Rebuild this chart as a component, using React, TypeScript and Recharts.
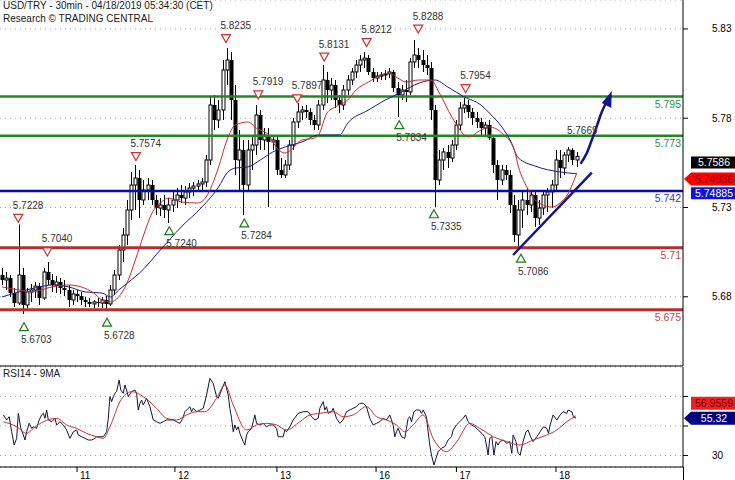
import React from 'react';
import { ComposedChart, Bar, Line, XAxis, YAxis, CartesianGrid, ReferenceLine, ReferenceDot } from 'recharts';

const FONT = '"Liberation Sans", Arial, Helvetica, sans-serif';

// hourly candles [open, high, low, close], one per slot
const candles: number[][] = [
  [5.6922,5.6962,5.6866,5.6894],[5.6894,5.6939,5.6838,5.6905],[5.6905,5.6922,5.6799,5.6821],[5.6821,5.6849,5.6743,5.6765],
  [5.6765,5.7205,5.6754,5.6922],[5.6922,5.6962,5.6704,5.6754],[5.6754,5.6849,5.6737,5.6827],[5.6827,5.6872,5.6771,5.6838],
  [5.6838,5.6883,5.6793,5.6860],[5.6860,5.6877,5.6754,5.6793],[5.6793,5.6962,5.6782,5.6939],[5.6939,5.6995,5.6866,5.6894],
  [5.6894,5.6928,5.6827,5.6866],[5.6866,5.6916,5.6821,5.6883],[5.6883,5.6905,5.6816,5.6849],[5.6849,5.6894,5.6804,5.6838],
  [5.6838,5.6866,5.6743,5.6782],[5.6782,5.6838,5.6754,5.6816],[5.6816,5.6838,5.6771,5.6804],[5.6804,5.6827,5.6754,5.6782],
  [5.6782,5.6799,5.6743,5.6771],[5.6771,5.6793,5.6743,5.6760],[5.6760,5.6782,5.6737,5.6771],[5.6771,5.6793,5.6743,5.6765],
  [5.6765,5.6799,5.6737,5.6782],[5.6782,5.6804,5.6720,5.6760],[5.6760,5.6866,5.6748,5.6838],[5.6838,5.6950,5.6810,5.6922],
  [5.6922,5.7090,5.6894,5.7062],[5.7062,5.7186,5.6995,5.7146],[5.7146,5.7342,5.7090,5.7286],[5.7286,5.7499,5.7230,5.7426],
  [5.7426,5.7538,5.7286,5.7465],[5.7465,5.7510,5.7241,5.7342],[5.7342,5.7454,5.7314,5.7398],[5.7398,5.7465,5.7342,5.7426],
  [5.7426,5.7454,5.7314,5.7342],[5.7342,5.7370,5.7258,5.7297],[5.7297,5.7353,5.7252,5.7314],[5.7314,5.7370,5.7241,5.7286],
  [5.7286,5.7353,5.7213,5.7314],[5.7314,5.7387,5.7275,5.7342],[5.7342,5.7409,5.7297,5.7370],[5.7370,5.7426,5.7325,5.7353],
  [5.7353,5.7420,5.7314,5.7387],[5.7387,5.7437,5.7353,5.7409],[5.7409,5.7443,5.7364,5.7420],[5.7420,5.7454,5.7387,5.7432],
  [5.7432,5.7465,5.7398,5.7443],[5.7443,5.7594,5.7415,5.7566],[5.7566,5.7919,5.7538,5.7874],[5.7874,5.7930,5.7734,5.7790],
  [5.7790,5.7902,5.7745,5.7846],[5.7846,5.8126,5.7790,5.8070],[5.8070,5.8193,5.7986,5.8126],[5.8126,5.8171,5.7790,5.7902],
  [5.7902,5.7986,5.7482,5.7566],[5.7566,5.7734,5.7398,5.7622],[5.7622,5.7678,5.7258,5.7426],[5.7426,5.7678,5.7387,5.7622],
  [5.7622,5.7706,5.7510,5.7650],[5.7650,5.7874,5.7594,5.7818],[5.7818,5.7846,5.7622,5.7678],[5.7678,5.7745,5.7622,5.7706],
  [5.7706,5.7745,5.7303,5.7667],[5.7667,5.7706,5.7622,5.7678],[5.7678,5.7700,5.7482,5.7510],[5.7510,5.7577,5.7465,5.7482],
  [5.7482,5.7566,5.7465,5.7538],[5.7538,5.7678,5.7510,5.7650],[5.7650,5.7801,5.7622,5.7779],[5.7779,5.7885,5.7745,5.7835],
  [5.7835,5.7868,5.7790,5.7846],[5.7846,5.7874,5.7801,5.7835],[5.7835,5.7857,5.7762,5.7790],[5.7790,5.7818,5.7734,5.7762],
  [5.7762,5.7902,5.7734,5.7874],[5.7874,5.8098,5.7846,5.8014],[5.8014,5.8059,5.7885,5.7958],[5.7958,5.8025,5.7902,5.7986],
  [5.7986,5.8014,5.7857,5.7902],[5.7902,5.7930,5.7829,5.7874],[5.7874,5.7986,5.7846,5.7958],[5.7958,5.8042,5.7930,5.8014],
  [5.8014,5.8081,5.7986,5.8059],[5.8059,5.8126,5.8025,5.8098],[5.8098,5.8154,5.8059,5.8126],[5.8126,5.8171,5.8081,5.8137],
  [5.8137,5.8154,5.8042,5.8059],[5.8059,5.8081,5.8003,5.8025],[5.8025,5.8059,5.8003,5.8036],[5.8036,5.8059,5.8014,5.8042],
  [5.8042,5.8070,5.8014,5.8048],[5.8048,5.8081,5.8025,5.8059],[5.8059,5.8070,5.7947,5.7969],[5.7969,5.8003,5.7807,5.7930],
  [5.7930,5.7986,5.7902,5.7958],[5.7958,5.8014,5.7891,5.7947],[5.7947,5.8137,5.7930,5.8115],[5.8115,5.8238,5.8081,5.8154],
  [5.8154,5.8193,5.8081,5.8126],[5.8126,5.8182,5.8059,5.8098],[5.8098,5.8154,5.8042,5.8081],[5.8081,5.8115,5.7790,5.7846],
  [5.7846,5.7874,5.7303,5.7454],[5.7454,5.7622,5.7426,5.7566],[5.7566,5.7633,5.7510,5.7611],[5.7611,5.7650,5.7521,5.7577],
  [5.7577,5.7678,5.7555,5.7650],[5.7650,5.7790,5.7622,5.7762],[5.7762,5.7891,5.7734,5.7857],[5.7857,5.7913,5.7829,5.7874],
  [5.7874,5.7902,5.7801,5.7835],[5.7835,5.7857,5.7762,5.7801],[5.7801,5.7835,5.7745,5.7779],[5.7779,5.7801,5.7706,5.7745],
  [5.7745,5.7779,5.7706,5.7762],[5.7762,5.7790,5.7678,5.7689],[5.7689,5.7706,5.7493,5.7538],[5.7538,5.7566,5.7342,5.7454],
  [5.7454,5.7538,5.7426,5.7510],[5.7510,5.7538,5.7454,5.7482],[5.7482,5.7510,5.7269,5.7314],[5.7314,5.7370,5.7107,5.7146],
  [5.7146,5.7342,5.7079,5.7286],[5.7286,5.7387,5.7186,5.7342],[5.7342,5.7409,5.7258,5.7314],[5.7314,5.7398,5.7275,5.7370],
  [5.7370,5.7387,5.7191,5.7241],[5.7241,5.7342,5.7202,5.7297],[5.7297,5.7398,5.7258,5.7370],[5.7370,5.7409,5.7275,5.7387],
  [5.7387,5.7454,5.7297,5.7426],[5.7426,5.7622,5.7398,5.7566],[5.7566,5.7622,5.7465,5.7521],[5.7521,5.7611,5.7482,5.7594],
  [5.7594,5.7639,5.7555,5.7622],[5.7622,5.7633,5.7538,5.7566],[5.7566,5.7611,5.7527,5.7586],
];

// moving averages on the price panel [slot, price]
const fastMa: number[][] = [
  [0,5.6855],[4,5.6838],[7,5.6827],[12,5.6855],[16,5.6866],[19,5.6855],[22,5.6821],[24,5.6782],[26,5.6771],[28,5.6799],
  [30,5.6877],[32,5.7006],[34,5.7146],[36,5.7269],[38,5.7325],[40,5.7353],[43,5.7331],[47,5.7325],[49,5.7359],[52,5.7527],
  [54,5.7678],[56,5.7762],[59,5.7779],[61,5.7745],[64,5.7706],[66,5.7633],[68,5.7605],[72,5.7678],[75,5.7689],[76,5.7706],
  [78,5.7829],[80,5.7863],[83,5.7902],[85,5.7958],[88,5.8003],[91,5.8042],[93,5.8053],[95,5.8025],[97,5.8003],[100,5.8014],
  [103,5.8014],[105,5.7941],[108,5.7807],[112,5.7695],[115,5.7734],[117,5.7751],[120,5.7717],[123,5.7622],[124,5.7527],
  [126,5.7415],[128,5.7342],[132,5.7303],[134,5.7325],[136,5.7381],[138,5.7494],
];
const slowMa: number[][] = [
  [0,5.6799],[4,5.6827],[9,5.6855],[12,5.6866],[16,5.6855],[20,5.6827],[24,5.6821],[26,5.6799],[28,5.6838],[31,5.6894],
  [33,5.6933],[38,5.7062],[43,5.7191],[48,5.7303],[52,5.7415],[54,5.7493],[56,5.7521],[59,5.7527],[62,5.7566],[65,5.7611],
  [68,5.7639],[72,5.7667],[76,5.7706],[81,5.7706],[83,5.7773],[88,5.7846],[92,5.7902],[96,5.7947],[99,5.7986],[104,5.8014],
  [107,5.7975],[111,5.7919],[115,5.7874],[117,5.7829],[120,5.7751],[122,5.7678],[124,5.7577],[128,5.7532],[134,5.7499],[138,5.7489],
];

// horizontal levels (drawn value) and their printed labels
const levelValues = [5.7921, 5.7702, 5.7392, 5.7075, 5.6728];
const levelLabels = ['5.795', '5.773', '5.742', '5.71', '5.675'];
const levelKinds = ['res', 'res', 'pivot', 'sup', 'sup'];

// swing markers [slot, price]
const swingHighs: number[][] = [
  [3.89,5.7228],[10.86,5.7040],[32.15,5.7574],[53.76,5.8235],[61.52,5.7919],[70.88,5.7897],[77.36,5.8131],[87.54,5.8212],[99.93,5.8288],[111.31,5.7954],
];
const swingLows: number[][] = [
  [5.26,5.6703],[25.19,5.6728],[40.15,5.7240],[58.16,5.7284],[95.37,5.7834],[103.7,5.7335],[124.59,5.7086],
];
const targetNote = [135.63, 5.7669];

// trend line and projected arrow [slot, price]
const trendLine: number[][] = [[122.7,5.7034],[141.6,5.7495]];
const arrowPath: number[][] = [[138.9,5.7545],[140.4,5.7605],[141.6,5.7678],[142.8,5.7756],[144.0,5.7835],[145.0,5.7885]];
const arrowTip = [146.4, 5.7952];

const priceTicks = [5.68, 5.73, 5.78, 5.83];
const lastPrice = 5.7586;
const fastMaLast = 5.74936;
const slowMaLast = 5.74885;

// RSI panel [slot, value]
const rsi: number[][] = [
  [0.3,57.5],[1.1,54.1],[1.7,56.3],[2.3,46.1],[2.9,37.1],[3.5,41.6],[3.9,58.6],[4.5,48.4],[5.1,43.9],[5.5,40.5],[5.9,46.1],[6.5,51.8],
  [7.1,48.4],[7.5,49.5],[8.3,48.4],[8.9,54.1],[9.5,57.5],[9.9,58.6],[10.3,55.2],[10.7,60.8],[11.1,54.1],[11.9,52.9],[12.7,55.2],
  [13.1,50.7],[13.9,52.9],[14.7,50.7],[15.5,47.3],[16.3,41.6],[17.1,46.1],[17.9,47.3],[18.3,43.9],[19.1,42.7],[19.9,41.6],[20.7,40.5],
  [21.5,40.5],[22.3,41.6],[22.7,42.7],[23.5,42.7],[24.3,42.7],[25.1,46.1],[25.5,55.2],[25.9,69.9],[26.3,66.5],[26.7,69.9],[27.1,72.2],
  [27.5,73.3],[28.1,81.2],[28.5,74.4],[29.1,72.2],[29.5,77.8],[29.9,74.4],[30.3,69.9],[31.1,73.3],[31.9,74.4],[32.3,72.2],[32.7,60.8],
  [33.1,65.4],[33.5,67.6],[33.9,64.2],[34.3,66.5],[34.7,68.8],[35.5,63.1],[36.3,54.1],[37.1,52.9],[37.9,51.8],[38.7,52.9],[39.5,54.1],
  [40.3,54.1],[41.1,54.1],[41.9,52.9],[42.7,51.8],[43.4,55.2],[43.9,59.7],[44.7,62.0],[45.1,63.1],[45.5,59.7],[45.9,62.0],[46.7,59.7],
  [47.5,60.8],[48.3,62.0],[49.1,71.0],[49.9,82.3],[50.7,78.9],[51.5,69.9],[51.9,68.8],[52.7,74.4],[53.5,80.0],[54.3,71.0],[54.7,62.0],
  [55.1,55.2],[55.5,46.1],[55.9,50.7],[56.3,47.3],[56.7,49.5],[57.1,45.0],[57.9,39.4],[58.3,37.1],[58.7,43.9],[59.1,46.1],[59.9,48.4],
  [60.7,57.5],[61.1,51.8],[61.9,50.7],[62.7,51.8],[63.5,49.5],[64.3,50.7],[65.1,50.7],[65.9,48.4],[66.3,42.7],[66.7,42.7],[67.5,42.7],
  [67.9,47.3],[68.3,46.1],[69.1,49.5],[69.9,54.1],[71.1,58.6],[72.3,59.7],[73.5,59.7],[74.3,56.3],[75.1,54.1],[75.9,55.2],[76.3,62.0],
  [77.1,66.5],[77.5,60.8],[77.9,63.1],[78.3,58.6],[79.1,59.7],[79.5,62.0],[80.3,55.2],[81.1,51.8],[81.9,54.1],[82.7,59.7],[83.5,60.8],
  [84.3,62.0],[85.1,63.1],[85.9,65.4],[86.7,65.4],[87.5,63.1],[88.3,55.2],[89.1,50.7],[89.9,51.8],[90.7,52.9],[91.5,55.2],[92.3,54.1],
  [93.1,57.5],[93.5,54.1],[93.9,50.7],[94.3,42.7],[94.7,46.1],[95.1,48.4],[95.9,42.7],[96.7,41.6],[97.1,48.4],[97.5,55.2],[97.9,56.3],
  [98.3,52.9],[98.9,59.7],[99.5,60.8],[100.3,60.8],[100.7,58.6],[101.1,60.8],[101.9,56.3],[102.3,46.1],[102.7,37.1],[103.1,30.3],
  [103.7,23.6],[104.2,28.1],[104.7,32.6],[105.5,34.9],[106.3,36.0],[107.1,40.5],[107.9,42.7],[108.3,47.3],[109.1,50.7],[109.9,52.9],
  [110.7,55.2],[111.3,57.5],[111.9,52.9],[112.7,50.7],[113.5,49.5],[114.3,47.3],[115.2,45.0],[115.9,42.7],[116.3,37.1],[116.7,30.3],
  [117.1,41.6],[117.6,42.7],[118.1,30.3],[118.6,39.4],[119.1,37.1],[119.5,39.4],[120.3,40.5],[121.2,38.3],[121.9,39.4],[122.4,31.5],
  [122.7,43.9],[123.4,39.4],[123.9,31.5],[124.4,30.3],[125.1,39.4],[125.8,46.1],[126.3,47.3],[126.9,42.7],[127.5,39.4],[128.4,42.7],
  [129.2,46.1],[130.0,49.5],[130.8,48.4],[131.2,45.0],[131.6,50.7],[132.3,57.5],[133.2,54.1],[134.0,57.5],[134.7,59.7],[135.6,58.6],
  [135.9,60.8],[136.8,59.7],[137.2,56.3],[137.8,55.32],
];
const rsiMa: number[][] = [
  [0.3,52.9],[3.5,49.5],[5.9,45.0],[7.5,48.4],[9.9,52.9],[13.1,55.2],[15.5,50.7],[17.9,48.4],[20.3,45.0],[22.7,42.7],[24.3,41.6],
  [25.9,49.5],[28.3,66.5],[31.1,73.3],[33.9,69.9],[37.1,62.0],[39.5,55.2],[41.9,54.1],[44.3,57.5],[46.7,59.7],[48.7,59.7],[51.5,68.8],
  [53.5,77.8],[55.5,64.2],[58.7,47.3],[61.1,50.7],[63.5,51.8],[65.9,50.7],[68.3,47.3],[71.5,52.9],[73.9,57.5],[76.3,58.6],[79.5,59.7],
  [81.9,56.3],[84.3,57.5],[87.5,63.1],[89.9,56.3],[92.3,54.1],[94.7,50.7],[96.7,46.1],[98.7,50.7],[101.1,57.5],[103.5,41.6],[106.7,32.6],
  [109.2,39.4],[112.3,51.8],[114.7,48.4],[118.0,42.7],[121.2,39.4],[124.4,37.1],[127.5,40.5],[130.8,43.9],[133.2,47.3],[135.6,52.9],[137.8,56.9559],
];
const rsiTicks = [30, 50, 70];
const rsiLast = 55.32;
const rsiMaLast = 56.9559;

// x axis: day separators [slot] and labels
const daySlots = [18.0, 41.5, 66.0, 89.8, 109.1, 133.0];
const dayLabels = ['11', '12', '13', '16', '17', '18'];

const SLOTS = 164;
const toX = (s: number) => s + 0.5;
const candleRows = candles.map((c, i) => ({ x: toX(i), o: c[0], h: c[1], l: c[2], c: c[3], range: [c[2], c[1]] }));
const pts = (arr: number[][]) => arr.map((p) => ({ x: toX(p[0]), y: p[1] }));
const dayTicks = daySlots.map(toX);

const Candle = (props: any) => {
  const { x, y, width, height, payload } = props;
  if (payload == null || x == null) return null;
  const top = Math.min(y, y + height);
  const H = Math.abs(height);
  const span = payload.h - payload.l || 1e-6;
  const toY = (p: number) => top + ((payload.h - p) / span) * H;
  const cx = Math.round(x + width / 2) + 0.5;
  const yo = toY(payload.o);
  const yc = toY(payload.c);
  const bt = Math.min(yo, yc);
  const bh = Math.max(1, Math.abs(yc - yo));
  const up = payload.c > payload.o;
  return (
    <g>
      <line x1={cx} x2={cx} y1={top} y2={top + Math.max(H, 1)} stroke="#000" strokeWidth={1} />
      {up ? (
        <rect x={cx - 1.5} y={bt} width={3} height={bh} fill="#fff" stroke="#000" strokeWidth={1} />
      ) : (
        <rect x={cx - 2} y={bt} width={4} height={bh} fill="#000" />
      )}
    </g>
  );
};

const DownMark = (label: string) => (p: any) => (
  <g>
    <polygon points={`${p.cx - 4.5},${p.cy - 6} ${p.cx + 4.5},${p.cy - 6} ${p.cx},${p.cy + 2}`} fill="#fff" stroke="#d03030" strokeWidth={1.2} />
    <text x={p.cx - 5.5} y={p.cy - 11.5} fontSize={10} fontFamily={FONT} fill="#333">{label}</text>
  </g>
);
const UpMark = (label: string) => (p: any) => (
  <g>
    <polygon points={`${p.cx - 4.5},${p.cy + 16.5} ${p.cx + 4.5},${p.cy + 16.5} ${p.cx},${p.cy + 8.5}`} fill="#fff" stroke="#1f7a1f" strokeWidth={1.2} />
    <text x={p.cx - 3} y={p.cy + 29} fontSize={10} fontFamily={FONT} fill="#333">{label}</text>
  </g>
);

const levelStyle: Record<string, { line: string; text: string; w: number }> = {
  res: { line: '#1f8a1f', text: '#3c8c3c', w: 2.5 },
  pivot: { line: '#0a0ab4', text: '#3a3aa0', w: 2.5 },
  sup: { line: '#b23030', text: '#c24848', w: 3 },
};

const Tag = (text: string, bg: string, fg: string, dy: number, arrow: boolean, h = 12) => (p: any) => {
  const x0 = p.cx + 8;
  const x1 = p.cx + 52;
  const top = p.cy + dy;
  const poly = arrow
    ? `${p.cx + 1},${top + h / 2} ${x0},${top} ${x1},${top} ${x1},${top + h} ${x0},${top + h}`
    : `${x0},${top} ${x1},${top} ${x1},${top + h} ${x0},${top + h}`;
  return (
    <g>
      <polygon points={poly} fill={bg} />
      <text x={(x0 + x1) / 2 + 1} y={top + h / 2 + 3.6} textAnchor="middle" fontSize={10.5} fontFamily={FONT} fill={fg}>{text}</text>
    </g>
  );
};

const ArrowHead = (p: any) => (
  <polygon points={`${p.cx},${p.cy} ${p.cx - 10},${p.cy + 12} ${p.cx - 0.5},${p.cy + 17}`} fill="#14148c" />
);

const DayTick = (p: any) => {
  const i = dayTicks.indexOf(p.payload.value);
  return (
    <text x={p.x + 3} y={p.y + 5} fontSize={10} fontFamily={FONT} fill="#000">{dayLabels[i] ?? ''}</text>
  );
};

// RSI axis labels: 50 and 70 sit under the value tags, as in the reference
const RsiTick = (p: any) => {
  const v = p.payload.value;
  if (v !== 30) return <g />;
  return <text x={p.x} y={p.y + 3.5} fontSize={10} fontFamily={FONT} fill="#000">{String(v)}</text>;
};

export default function App() {
  const priceDomain: [number, number] = [5.64124, 5.8462];
  const rsiDomain: [number, number] = [22.2, 90.0];
  return (
    <div style={{ position: 'absolute', left: 0, top: 0, width: 735, height: 480, background: '#fff', fontFamily: FONT }}>
      <ComposedChart width={735} height={367} data={candleRows} margin={{ top: 0, right: 0, bottom: 0, left: 0 }}>
        <CartesianGrid horizontal vertical={false} stroke="#a0a0a0" strokeDasharray="1 4" />
        <XAxis dataKey="x" type="number" domain={[0, SLOTS]} ticks={[]} tick={false} tickLine={false} height={1} axisLine={{ stroke: '#000' }} allowDataOverflow />
        <YAxis orientation="right" width={52} domain={priceDomain} ticks={priceTicks} allowDataOverflow
          tickFormatter={(v: number) => v.toFixed(2)} tickSize={5} tickMargin={24}
          tick={{ fontSize: 10, fill: '#000', fontFamily: FONT }} tickLine={{ stroke: '#000' }} axisLine={{ stroke: '#000' }} />
        {levelValues.map((v, i) => (
          <ReferenceLine key={'lv' + i} y={v} stroke={levelStyle[levelKinds[i]].line} strokeWidth={levelStyle[levelKinds[i]].w} />
        ))}
        <Bar dataKey="range" barSize={4} shape={Candle} isAnimationActive={false} />
        <Line data={pts(slowMa)} dataKey="y" type="monotone" stroke="#1c1c8c" strokeWidth={1} dot={false} activeDot={false} isAnimationActive={false} />
        <Line data={pts(fastMa)} dataKey="y" type="monotone" stroke="#cc2a2a" strokeWidth={1} dot={false} activeDot={false} isAnimationActive={false} />
        <ReferenceLine segment={trendLine.map((p) => ({ x: toX(p[0]), y: p[1] }))} stroke="#14148c" strokeWidth={2.5} ifOverflow="visible" />
        <Line data={pts(arrowPath)} dataKey="y" type="monotone" stroke="#14148c" strokeWidth={2.5} dot={false} activeDot={false} isAnimationActive={false} />
        <ReferenceDot x={toX(arrowTip[0])} y={arrowTip[1]} ifOverflow="visible" shape={ArrowHead} />
        {swingHighs.map((m, i) => (
          <ReferenceDot key={'h' + i} x={toX(m[0])} y={m[1]} ifOverflow="visible" shape={DownMark(m[1].toFixed(4))} />
        ))}
        {swingLows.map((m, i) => (
          <ReferenceDot key={'l' + i} x={toX(m[0])} y={m[1]} ifOverflow="visible" shape={UpMark(m[1].toFixed(4))} />
        ))}
        <ReferenceDot x={toX(targetNote[0])} y={targetNote[1]} ifOverflow="visible"
          shape={(p: any) => <text x={p.cx} y={p.cy - 7.5} fontSize={10} fontFamily={FONT} fill="#333">{targetNote[1].toFixed(4)}</text>} />
        {levelValues.map((v, i) => (
          <ReferenceDot key={'lt' + i} x={SLOTS} y={v} ifOverflow="visible"
            shape={(p: any) => <text x={p.cx - 2} y={p.cy + 11} textAnchor="end" fontSize={10.5} fontFamily={FONT} fill={levelStyle[levelKinds[i]].text}>{levelLabels[i]}</text>} />
        ))}
        <ReferenceDot x={SLOTS} y={lastPrice} ifOverflow="visible" shape={Tag(lastPrice.toFixed(4), '#000', '#fff', 0, false)} />
        <ReferenceDot x={SLOTS} y={fastMaLast} ifOverflow="visible" shape={Tag(fastMaLast.toFixed(5), '#ff0000', '#8a0000', -0.5, true, 13)} />
        <ReferenceDot x={SLOTS} y={slowMaLast} ifOverflow="visible" shape={Tag(slowMaLast.toFixed(5), '#1010e0', '#fff', 13.5, false)} />
      </ComposedChart>
      <ComposedChart width={735} height={113} margin={{ top: 0, right: 0, bottom: 0, left: 0 }}>
        <CartesianGrid horizontal vertical={false} stroke="#a0a0a0" strokeDasharray="1 4" />
        <XAxis dataKey="x" type="number" domain={[0, SLOTS]} ticks={dayTicks} tick={<DayTick />} tickSize={5} height={13}
          tickLine={{ stroke: '#000' }} axisLine={{ stroke: '#000' }} allowDataOverflow interval={0} />
        <YAxis orientation="right" width={52} domain={rsiDomain} ticks={rsiTicks} allowDataOverflow tickSize={5} tickMargin={24}
          tick={<RsiTick />} tickLine={{ stroke: '#000' }} axisLine={{ stroke: '#000' }} />
        <Line data={pts(rsi)} dataKey="y" type="linear" stroke="#14143c" strokeWidth={1} dot={false} activeDot={false} isAnimationActive={false} />
        <Line data={pts(rsiMa)} dataKey="y" type="monotone" stroke="#c83030" strokeWidth={1} dot={false} activeDot={false} isAnimationActive={false} />
        <ReferenceDot x={SLOTS} y={rsiMaLast} ifOverflow="visible" shape={Tag(rsiMaLast.toFixed(4), '#f02020', '#7a0000', -19, false, 13)} />
        <ReferenceDot x={SLOTS} y={rsiLast} ifOverflow="visible" shape={Tag(rsiLast.toFixed(2), '#000080', '#fff', -6.5, true, 13)} />
      </ComposedChart>
      <div style={{ position: 'absolute', left: 683, top: 467, width: 1, height: 13, background: '#000' }} />
      <div style={{ position: 'absolute', left: 3, top: 0, fontSize: 10, lineHeight: '12.5px', color: '#1a1a1a', whiteSpace: 'nowrap' }}>
        <div>USD/TRY - 30min - 04/18/2019 05:34:30 (CET)</div>
        <div>Research © TRADING CENTRAL</div>
      </div>
      <div style={{ position: 'absolute', left: 3, top: 368, fontSize: 10, lineHeight: '12px', color: '#1a1a1a', whiteSpace: 'nowrap' }}>
        RSI14 - 9MA
      </div>
    </div>
  );
}
